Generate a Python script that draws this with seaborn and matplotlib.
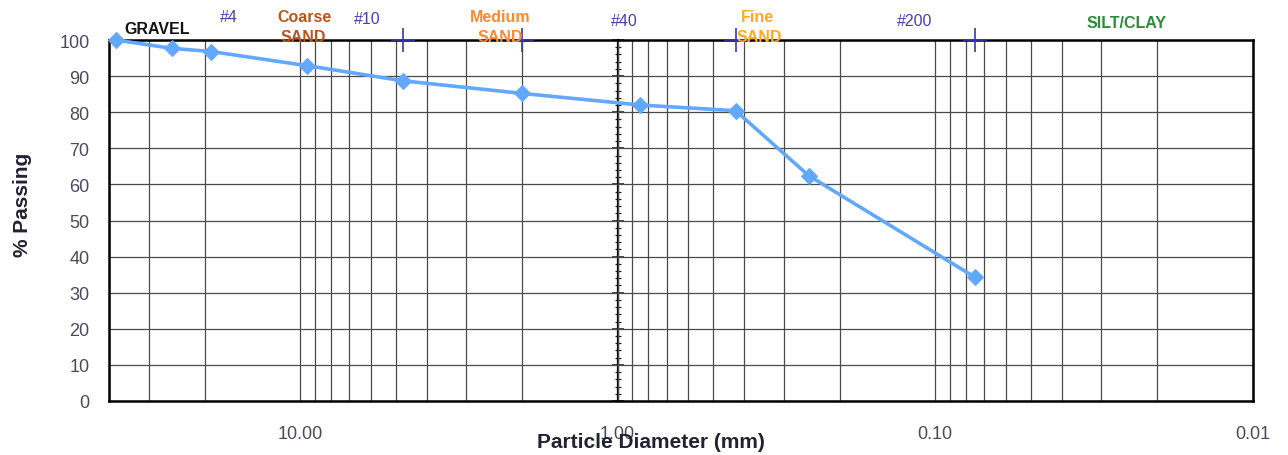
import numpy as np
import pandas as pd
import matplotlib
matplotlib.use("Agg")
import matplotlib.pyplot as plt
from matplotlib.ticker import FixedLocator, FuncFormatter, MultipleLocator, NullFormatter
import seaborn as sns

# Grain size distribution (sieve analysis)
diameter_mm = [38.1, 25.4, 19.05, 9.525, 4.75, 2.0, 0.85, 0.425, 0.25, 0.075]
percent_passing = [100.0, 97.7, 96.8, 92.9, 88.7, 85.2, 82.0, 80.4, 62.4, 34.3]

# Sieve openings flagged along the top of the chart
sieve_sizes = [4.75, 2.0, 0.425, 0.075]
sieve_level = [100, 100, 100, 100]

x_major = [10.0, 1.0, 0.1, 0.01]
y_ticks = list(range(0, 101, 10))

W, H = 1288, 456

sns.set_style("white")
plt.rcParams["font.family"] = ["Liberation Sans", "DejaVu Sans"]

fig = plt.figure(figsize=(W / 100, H / 100), dpi=100)
ax = fig.add_axes([109 / W, 1 - 402 / H, (1252.7 - 109) / W, (402 - 41) / H])

df = pd.DataFrame({"d": diameter_mm, "p": percent_passing})
sns.lineplot(data=df, x="d", y="p", ax=ax, color="#62a8ff", linewidth=2.6,
             marker="D", markersize=8.5, markeredgecolor="#62a8ff", sort=False,
             zorder=5, clip_on=False)

sns.scatterplot(x=sieve_sizes, y=sieve_level, ax=ax, marker="+", s=300,
                color="#3838a8", linewidth=1.2, zorder=6, clip_on=False)

ax.set_xscale("log")
ax.set_xlim(40, 0.01)
ax.set_ylim(0, 100)

# x: decade labels plus gridlines at every 2..9 step
minor = [m * 10.0 ** e for e in range(-2, 2) for m in range(2, 10) if m * 10.0 ** e <= 40]
ax.xaxis.set_major_locator(FixedLocator(x_major))
ax.xaxis.set_major_formatter(FuncFormatter(lambda v, _: f"{v:.2f}"))
ax.xaxis.set_minor_locator(FixedLocator(minor))
ax.xaxis.set_minor_formatter(NullFormatter())
ax.set_yticks(y_ticks)

grid_kw = dict(color="#4a4a4a", linewidth=0.9)
ax.grid(True, which="major", axis="both", **grid_kw)
ax.grid(True, which="minor", axis="x", **grid_kw)
ax.set_axisbelow(True)

for s in ax.spines.values():
    s.set_visible(True)
    s.set_color("black")
    s.set_linewidth(1.8)

tick_color = "#4a4a5c"
ax.tick_params(axis="x", which="both", direction="out", length=3, width=1,
               color="black", pad=14, labelsize=13, labelcolor=tick_color)
ax.tick_params(axis="y", which="major", direction="out", length=2, width=1,
               color="black", pad=12, labelsize=13, labelcolor=tick_color)

# vertical axis crossing at 1 mm with its own tick marks
sec = ax.secondary_yaxis(1.0, transform=ax.transData)
sec.set_yticks(y_ticks)
sec.yaxis.set_minor_locator(MultipleLocator(2))
sec.tick_params(which="major", direction="inout", length=8, width=1.2, labelleft=False, labelright=False)
sec.tick_params(which="minor", direction="inout", length=5, width=0.9)
sec.set_yticklabels([])
for s in sec.spines.values():
    s.set_linewidth(1.6)
    s.set_color("black")

ax.set_xlabel("Particle Diameter (mm)", fontsize=15, fontweight="bold", color="#222233")
ax.xaxis.set_label_coords((651 - 109) / 1143.7, (402 - 443) / 361)
ax.xaxis.label.set_va("center")
ax.set_ylabel("% Passing", fontsize=15, fontweight="bold", color="#222233")
ax.yaxis.set_label_coords((22.5 - 109) / 1143.7, (402 - 205) / 361)
ax.yaxis.label.set_va("center")

def top_text(x, y, s, color, bold=True):
    fig.text(x / W, 1 - y / H, s, ha="center", va="center", fontsize=11.5,
             fontweight="bold" if bold else "normal", color=color)

top_text(157, 29, "GRAVEL", "#111111")
top_text(229, 18, "#4", "#4b3cb0", bold=False)
top_text(304, 18, "Coarse", "#b5561f")
top_text(303, 37, "SAND", "#b5561f")
top_text(367, 20, "#10", "#4b3cb0", bold=False)
top_text(500, 17.5, "Medium", "#ff8833")
top_text(500, 37, "SAND", "#ff8833")
top_text(624, 21, "#40", "#4b3cb0", bold=False)
top_text(757, 18, "Fine", "#ffaa22")
top_text(759, 37, "SAND", "#ffaa22")
top_text(915, 21, "#200", "#4b3cb0", bold=False)
top_text(1127, 24, "SILT/CLAY", "#2e8b3c")

fig.savefig("out.png", dpi=100)
